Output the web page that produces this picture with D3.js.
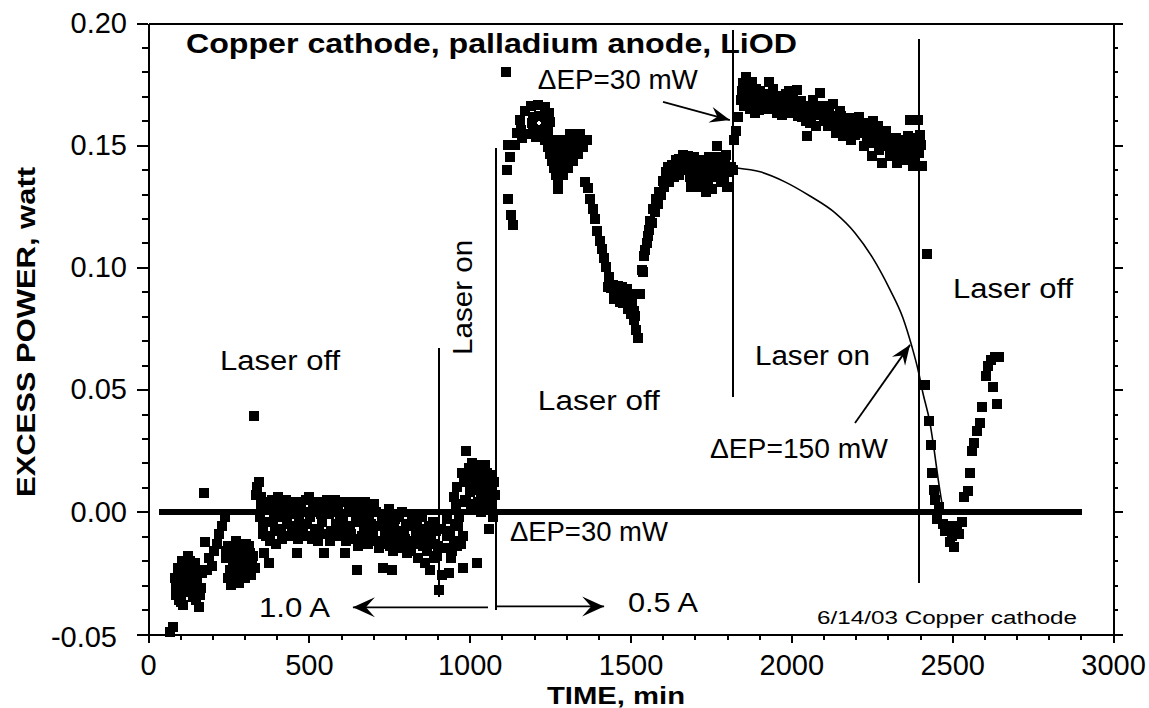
<!DOCTYPE html>
<html>
<head>
<meta charset="utf-8">
<script src="https://cdn.jsdelivr.net/npm/d3@7"></script>
<style>
  html, body { margin: 0; padding: 0; background: #fff; }
  svg { display: block; }
  text { font-family: "Liberation Sans", Arial, sans-serif; fill: #000; }
</style>
</head>
<body>
<svg id="chart" width="1149" height="708"></svg>
<script>
// Excess power (watt) against elapsed time (min) for a copper cathode /
// palladium anode cell in LiOD, with laser on/off periods.

const timeTicks  = [0, 500, 1000, 1500, 2000, 2500, 3000];
const powerTicks = [-0.05, 0.00, 0.05, 0.10, 0.15, 0.20];

// 1.0 A, laser off, then the first laser-on period
const run10A = [
  [68,-0.049],[78,-0.047],[84,-0.027],[88,-0.034],[92,-0.023],[98,-0.030],[102,-0.037],
  [106,-0.020],[112,-0.026],[118,-0.032],[124,-0.018],[128,-0.024],[134,-0.029],[140,-0.035],
  [146,-0.021],[152,-0.027],[158,-0.039],[164,-0.031],[168,-0.025],[174,0.0075],[177,-0.0125],
  [86,-0.031],[94,-0.028],[100,-0.024],[108,-0.033],[114,-0.029],[120,-0.022],[126,-0.030],
  [132,-0.020],[138,-0.026],[144,-0.031],[150,-0.036],[156,-0.024],[162,-0.034],[97,-0.036],
  [110,-0.038],[122,-0.027],
  [184,-0.024],[190,-0.019],[198,-0.022],[205,-0.016],[214,-0.013],[222,-0.009],[230,-0.006],
  [238,-0.002],[244,-0.019],[250,-0.014],[256,-0.024],[262,-0.017],[268,-0.028],[274,-0.012],
  [280,-0.021],[286,-0.015],[292,-0.025],[298,-0.019],[304,-0.013],[310,-0.023],[316,-0.017],
  [322,-0.021],[242,-0.016],[248,-0.027],[254,-0.019],[258,-0.030],[264,-0.022],[270,-0.015],
  [276,-0.026],[283,-0.029],[289,-0.018],[295,-0.013],[301,-0.027],[307,-0.020],[313,-0.014],
  [319,-0.026],[326,-0.018],[333,-0.023],
  [330,0.039],[336,0.007],[340,0.010],[345,0.012],
  [348,-0.002],[352,0.003],[358,-0.006],[362,-0.017],[368,-0.010],[375,-0.021],[380,0.001],
  [388,-0.004],[395,-0.008],[402,0.003],[410,-0.002],[418,-0.011],[425,0.002],[432,-0.005],
  [440,-0.001],[448,-0.009],[455,0.004],[462,-0.017],[468,-0.003],[475,0.001],[482,-0.006],
  [490,0.005],[498,-0.010],[505,-0.002],[512,0.003],[520,-0.007],[528,-0.012],[535,0.002],
  [540,-0.004],[548,-0.017],[555,0.005],[562,-0.001],[570,-0.008],[578,0.003],[585,-0.005],
  [592,0.001],[600,-0.009],[606,-0.003],[612,-0.017],[620,0.004],[628,-0.006],[635,0.000],
  [642,-0.011],[650,-0.024],[655,0.004],[662,-0.004],[670,-0.008],[678,0.002],[685,-0.013],
  [692,-0.005],[700,-0.009],[708,0.000],[715,-0.012],[722,-0.006],[730,-0.023],[738,-0.010],
  [745,-0.003],[752,-0.014],[760,-0.024],[766,-0.007],[772,-0.011],[780,-0.002],[788,-0.013],
  [795,-0.008],[802,-0.005],[810,-0.012],[818,-0.016],[825,-0.004],[832,-0.009],[840,-0.019],
  [848,-0.007],[855,-0.014],[862,-0.021],[870,-0.010],[878,-0.024],[885,-0.004],[892,-0.013],
  [898,-0.018],[905,-0.032],
  [351,0.006],[356,-0.009],[365,0.004],[371,-0.004],[378,-0.012],[384,0.005],[391,-0.001],
  [398,-0.013],[405,0.006],[414,-0.007],[421,-0.002],[428,0.005],[436,-0.010],[444,0.003],
  [451,-0.006],[458,-0.001],[465,-0.011],[472,0.004],[479,-0.008],[486,0.000],[494,-0.005],
  [502,0.006],[509,-0.011],[516,0.000],[524,0.004],[531,-0.008],[538,-0.001],[545,0.004],
  [552,-0.009],[559,0.002],[566,-0.012],[574,0.000],[581,0.005],[588,-0.010],[596,-0.002],
  [603,0.004],[610,-0.007],[616,-0.012],[624,0.001],[631,-0.009],[639,0.004],[646,-0.004],
  [652,-0.014],[659,0.000],[666,-0.010],[674,0.004],[681,-0.007],[688,-0.001],[696,-0.012],
  [704,0.003],[711,-0.006],[718,-0.015],[726,-0.002],[734,-0.013],[741,-0.006],[748,0.001],
  [756,-0.010],[763,-0.016],[769,-0.003],[776,-0.008],[784,-0.015],[791,0.000],[798,-0.011],
  [806,-0.017],[814,-0.006],[821,-0.001],[828,-0.013],[836,-0.005],[844,-0.011],[851,-0.002],
  [859,-0.009],[866,-0.016],[874,-0.006],[881,-0.012],[888,-0.019],[895,-0.008],[902,-0.014],
  [910,-0.007],[915,-0.026],[920,-0.015],[928,-0.010],[935,-0.025],[942,-0.019],[950,-0.012],
  [958,0.003],[965,-0.006],[972,-0.013],[978,-0.023],[985,0.005],[930,-0.003],[940,-0.008],
  [946,-0.016],[955,-0.005],[960,-0.014],[980,-0.010],
  [990,0.025],[995,0.012],[1000,0.008],[1005,0.016],[1010,0.011],[1015,0.003],[1020,0.014],
  [1024,-0.021],[1028,0.009],[1032,0.018],[1036,0.006],[1040,0.013],[1045,0.001],[1050,0.010],
  [1055,0.016],[1060,-0.007],[1065,0.008],[1070,0.003],[1075,0.012],
  [952,0.006],[962,0.010],[968,-0.002],[975,0.016],[982,0.012],[988,0.004],[998,0.018],
  [1003,0.002],[1008,0.020],[1013,0.009],[1018,0.019],[1026,0.004],[1030,0.013],[1034,0.000],
  [1038,0.017],[1043,0.008],[1048,0.019],[1052,0.004],[1058,0.013],[1062,0.002],[1068,0.015],
  [1072,-0.002],[1078,0.007]
];

// 0.5 A, laser off
const run05AOff = [
  [1112,0.180],[1116,0.140],[1120,0.128],[1125,0.145],[1130,0.1215],[1135,0.1175],[1118,0.150],
  [1142,0.150],[1147,0.155],
  [1237,0.1591],[1194,0.1591],[1216,0.1620],[1216,0.1562],[1234,0.1615],[1197,0.1615],
  [1234,0.1566],[1197,0.1566],
  [1157,0.1603],[1160,0.1562],[1163,0.1529],[1172,0.1640],[1191,0.1660],[1212,0.1664],
  [1234,0.1656],[1247,0.1632],[1250,0.1595],[1244,0.1562],[1231,0.1538],[1206,0.1534],
  [1181,0.1546],
  [1234,0.1521],[1256,0.1521],[1278,0.1521],[1299,0.1521],[1321,0.1521],[1343,0.1521],[1365,0.1521],
  [1243,0.1493],[1265,0.1493],[1287,0.1493],[1309,0.1493],[1331,0.1493],[1352,0.1493],
  [1250,0.1464],[1271,0.1464],[1293,0.1464],[1315,0.1464],[1337,0.1464],
  [1256,0.1435],[1278,0.1435],[1299,0.1435],[1321,0.1435],
  [1262,0.1407],[1284,0.1407],[1306,0.1407],[1268,0.1378],[1290,0.1378],
  [1275,0.1349],[1275,0.1321],[1343,0.1546],[1312,0.1546],
  [1360,0.135],[1368,0.1325],[1375,0.128],[1382,0.124],
  [1390,0.120],[1396,0.115],[1404,0.111],[1411,0.1075],[1418,0.104],[1425,0.100],[1432,0.096],
  [1440,0.0915],[1448,0.089],[1455,0.087],[1462,0.091],[1470,0.088],[1478,0.0855],[1485,0.090],
  [1492,0.083],[1500,0.081],[1506,0.086],[1512,0.0785],[1518,0.0745],[1522,0.071],[1528,0.089],
  [1430,0.092],[1445,0.093],[1460,0.0925],[1475,0.092],[1490,0.091],[1505,0.089],[1450,0.087],
  [1467,0.086],[1483,0.088],[1498,0.085],[1510,0.082],[1515,0.080],
  [1535,0.099],[1542,0.1045],[1550,0.110],[1558,0.1155],[1566,0.118],[1575,0.1225],[1585,0.126],
  [1595,0.1295],[1605,0.133],[1613,0.137],[1620,0.135],[1628,0.139],[1636,0.137],[1644,0.141],
  [1540,0.098],[1546,0.107],[1553,0.113],[1562,0.119],[1570,0.124],[1578,0.128],[1590,0.131],
  [1600,0.1355],[1610,0.139],[1618,0.141],[1630,0.142],[1640,0.144],[1650,0.1445],[1664,0.146],
  [1652,0.138],[1660,0.143],[1668,0.140],[1676,0.144],[1684,0.137],[1692,0.141],[1700,0.138],
  [1708,0.136],[1716,0.140],[1724,0.137],[1732,0.1395],[1740,0.134],[1748,0.141],[1756,0.137],
  [1764,0.139],[1770,0.1495],[1778,0.1415],[1786,0.138],[1794,0.143],[1800,0.133],[1806,0.139],
  [1812,0.141],[1820,0.140],
  [1680,0.1455],[1696,0.145],[1712,0.143],[1728,0.144],[1744,0.145],[1760,0.143],[1775,0.145],
  [1790,0.137],[1798,0.146],[1688,0.133],[1704,0.133],[1720,0.134],[1736,0.131],[1752,0.132],
  [1782,0.135]
];

// 0.5 A, laser on
const run05AOn = [
  [1822,0.152],[1828,0.156],[1834,0.1617],[1842,0.1686],[1850,0.1755],[1858,0.178],[1866,0.1727],
  [1874,0.170],[1882,0.1686],[1890,0.173],[1898,0.1645],[1906,0.168],[1914,0.171],[1922,0.166],
  [1930,0.176],[1938,0.170],[1946,0.1686],[1954,0.163],[1962,0.167],[1970,0.1625],[1978,0.169],
  [1986,0.166],[1994,0.172],[2002,0.1694],[2010,0.1645],[2018,0.1727],[2026,0.167],[2034,0.1617],
  [2042,0.165],[2050,0.1536],[2058,0.159],[2066,0.1686],[2074,0.1625],[2082,0.166],[2090,0.1714],
  [2098,0.163],[2106,0.1645],[2114,0.158],[2122,0.1617],[2130,0.167],[2138,0.155],[2146,0.159],
  [2154,0.162],[2162,0.1536],[2170,0.1577],[2178,0.1605],[2186,0.1523],[2194,0.157],[2202,0.1577],
  [2210,0.1617],[2218,0.156],[2226,0.1496],[2234,0.1523],[2242,0.158],[2250,0.1455],[2258,0.151],
  [2266,0.155],[2274,0.1482],[2282,0.1428],[2290,0.1496],[2298,0.153],[2306,0.147],[2314,0.1455],
  [2322,0.151],[2330,0.1428],[2338,0.146],[2346,0.1496],[2354,0.144],[2362,0.1536],[2370,0.1605],
  [2378,0.1414],[2386,0.148],[2394,0.1605],[2400,0.154],[2406,0.1414],
  [1846,0.172],[1854,0.166],[1862,0.169],[1870,0.165],[1878,0.176],[1886,0.163],[1894,0.169],
  [1902,0.172],[1910,0.165],[1918,0.168],[1926,0.171],[1934,0.165],[1942,0.173],[1950,0.167],
  [1958,0.170],[1966,0.165],[1974,0.167],[1982,0.171],[1990,0.163],[1998,0.167],[2006,0.171],
  [2014,0.166],[2022,0.162],[2030,0.168],[2038,0.164],[2046,0.160],[2054,0.166],[2062,0.162],
  [2070,0.166],[2078,0.158],[2086,0.163],[2094,0.166],[2102,0.160],[2110,0.163],[2118,0.166],
  [2126,0.159],[2134,0.162],[2142,0.158],[2150,0.164],[2158,0.157],[2166,0.161],[2174,0.155],
  [2182,0.158],[2190,0.161],[2198,0.154],[2206,0.158],[2214,0.155],[2222,0.159],[2230,0.156],
  [2238,0.153],[2246,0.156],[2254,0.160],[2262,0.152],[2270,0.158],[2278,0.154],[2286,0.151],
  [2294,0.156],[2302,0.150],[2310,0.153],[2318,0.147],[2326,0.153],[2334,0.150],[2342,0.144],
  [2350,0.152],[2358,0.148],[2366,0.145],[2374,0.150],[2382,0.1445],[2390,0.153],[2398,0.147],
  [2404,0.150]
];

// 0.5 A, laser off again
const run05AOff2 = [
  [2421,0.1056],[2415,0.052],[2428,0.037],[2433,0.0275],[2438,0.016],[2442,0.009],[2448,0.005],
  [2452,-0.003],[2460,0.002],[2470,-0.005],[2478,-0.008],[2485,-0.006],[2493,-0.0125],[2500,-0.010],
  [2506,-0.0145],[2514,-0.006],[2522,-0.009],[2530,-0.004],[2538,0.006],[2548,0.0085],[2556,0.016],
  [2562,0.025],[2568,0.028],[2578,0.033],[2586,0.0365],[2592,0.043],[2605,0.0555],[2610,0.0595],
  [2620,0.062],[2628,0.051],[2632,0.0635],[2640,0.044],[2645,0.0635]
];

// hand-drawn decay curve (ΔEP = 150 mW)
const decayCurve = [
  [1831,0.1407],[1903,0.1391],[1980,0.1350],[2058,0.1292],[2136,0.1223],[2198,0.1141],
  [2251,0.1043],[2307,0.0908],[2347,0.0793],[2375,0.0675],[2394,0.0580],[2409,0.0486],
  [2431,0.0364],[2444,0.0253],[2456,0.0138],[2468,0.0036]
];

// event markers: time, top value, bottom value
const eventLines = [
  [905, 0.067, -0.035],
  [1082, 0.149, -0.040],
  [1819, 0.197, 0.047],
  [2397, 0.1935, -0.029]
];

const zeroLine = [35, 2905];

const svg = d3.select("#chart");
const W = 1149, H = 708;
const x = d3.scaleLinear().domain([0, 3000]).range([148, 1113]);
const y = d3.scaleLinear().domain([-0.05, 0.20]).range([634, 23]);

svg.append("rect").attr("width", W).attr("height", H).attr("fill", "#fff");

// ---- axes ----
function styleAxis(g) {
  g.selectAll("path, line").attr("stroke", "#000").attr("stroke-width", 2)
    .attr("shape-rendering", "crispEdges");
  g.selectAll("text").style("font-family", '"Liberation Sans", Arial, sans-serif')
    .style("font-size", "29px").attr("fill", "#000");
}
const minorY = d3.range(-0.05, 0.2001, 0.01).map(v => +v.toFixed(2));
const minorX = d3.range(0, 3001, 100);

// left
svg.append("g").attr("transform", "translate(148,0)")
  .call(d3.axisLeft(y).tickValues(minorY).tickSize(6).tickFormat("").tickSizeOuter(0)).call(styleAxis);
const leftAxis = svg.append("g").attr("transform", "translate(148,0)")
  .call(d3.axisLeft(y).tickValues(powerTicks).tickSize(11).tickPadding(10)
    .tickFormat(d => d.toFixed(2)).tickSizeOuter(0)).call(styleAxis);
leftAxis.selectAll(".tick text").filter(d => d < 0).attr("x", -31).attr("dy", "0.42em");

// right
svg.append("g").attr("transform", "translate(1113,0)")
  .call(d3.axisRight(y).tickValues(minorY).tickSize(5).tickFormat("").tickSizeOuter(0)).call(styleAxis);
svg.append("g").attr("transform", "translate(1113,0)")
  .call(d3.axisRight(y).tickValues(powerTicks).tickSize(10).tickFormat("").tickSizeOuter(0)).call(styleAxis);

// bottom
svg.append("g").attr("transform", "translate(0,634)")
  .call(d3.axisBottom(x).tickValues(minorX).tickSize(6).tickFormat("").tickSizeOuter(0)).call(styleAxis);
svg.append("g").attr("transform", "translate(0,634)")
  .call(d3.axisBottom(x).tickValues(timeTicks).tickSize(9).tickPadding(11)
    .tickFormat(d3.format("d")).tickSizeOuter(0)).call(styleAxis);

// top
svg.append("g").attr("transform", "translate(0,23)")
  .call(d3.axisTop(x).tickValues([]).tickSizeOuter(0)).call(styleAxis);

// ---- zero reference line ----
svg.append("line")
  .attr("x1", x(zeroLine[0])).attr("x2", x(zeroLine[1]))
  .attr("y1", y(0)).attr("y2", y(0))
  .attr("stroke", "#000").attr("stroke-width", 6).attr("shape-rendering", "crispEdges");

// ---- event lines ----
svg.append("g").selectAll("line").data(eventLines).join("line")
  .attr("x1", d => x(d[0])).attr("x2", d => x(d[0]))
  .attr("y1", d => y(d[1])).attr("y2", d => y(d[2]))
  .attr("stroke", "#000").attr("stroke-width", 2).attr("shape-rendering", "crispEdges");

// ---- decay curve ----
svg.append("path")
  .datum(decayCurve)
  .attr("d", d3.line().x(d => x(d[0])).y(d => y(d[1])).curve(d3.curveMonotoneX))
  .attr("fill", "none").attr("stroke", "#000").attr("stroke-width", 1.6);

// ---- data points ----
const S = 10;
const allRuns = [run10A, run05AOff, run05AOn, run05AOff2];
svg.append("g").selectAll("g").data(allRuns).join("g")
  .selectAll("rect").data(d => d).join("rect")
  .attr("x", d => Math.round(x(d[0]) - S / 2))
  .attr("y", d => Math.round(y(d[1]) - S / 2))
  .attr("width", S).attr("height", S)
  .attr("fill", "#000").attr("shape-rendering", "crispEdges");

// ---- arrows ----
function arrow(t0, v0, t1, v1, head) {
  const x0 = x(t0), y0 = y(v0), x1 = x(t1), y1 = y(v1);
  svg.append("line").attr("x1", x0).attr("y1", y0).attr("x2", x1).attr("y2", y1)
    .attr("stroke", "#000").attr("stroke-width", 1.8);
  const a = Math.atan2(y1 - y0, x1 - x0) * 180 / Math.PI;
  svg.append("path")
    .attr("d", head)
    .attr("transform", `translate(${x1},${y1}) rotate(${a})`)
    .attr("fill", "#000");
}
const bigHead = "M0,0 L-22,-10 L-13,0 L-22,10 Z";
const smallHead = "M0,0 L-20,-8 L-13,0 L-20,8 Z";
arrow(1057, -0.0391, 637, -0.0391, bigHead);
arrow(1085, -0.0387, 1418, -0.0387, bigHead);
arrow(1601, 0.1677, 1809, 0.1603, smallHead);
arrow(2198, 0.0363, 2369, 0.0683, smallHead);

// ---- labels ----
const labels = [
  { text: "Laser off", t: 224, v: 0.0621, w: 120 },
  { text: "Laser off", t: 1212, v: 0.0457, w: 122 },
  { text: "Laser off", t: 2503, v: 0.0916, w: 120 },
  { text: "Laser on", t: 1887, v: 0.0642, w: 115 },
  { text: "\u0394EP=30 mW", t: 1212, v: 0.1771, w: 160 },
  { text: "\u0394EP=30 mW", t: 1125, v: -0.0079, w: 158 },
  { text: "\u0394EP=150 mW", t: 1747, v: 0.0261, w: 178 },
  { text: "1.0 A", t: 345, v: -0.0390, w: 71 },
  { text: "0.5 A", t: 1492, v: -0.0369, w: 70 }
];
svg.append("g").selectAll("text").data(labels).join("text")
  .attr("x", d => x(d.t)).attr("y", d => y(d.v)).attr("dy", "0.36em")
  .attr("textLength", d => d.w).attr("lengthAdjust", "spacingAndGlyphs")
  .style("font-size", "27px").text(d => d.text);

// vertical "Laser on"
svg.append("text")
  .attr("transform", `translate(${x(976)},${y(0.0642)}) rotate(-90)`)
  .attr("dy", "0.36em").attr("textLength", 115).attr("lengthAdjust", "spacingAndGlyphs")
  .style("font-size", "27px").text("Laser on");

// footnote
svg.append("text")
  .attr("x", x(2080)).attr("y", y(-0.0434)).attr("dy", "0.36em")
  .attr("textLength", 260).attr("lengthAdjust", "spacingAndGlyphs")
  .style("font-size", "18px").text("6/14/03 Copper cathode");

// title
svg.append("text")
  .attr("x", x(118)).attr("y", y(0.1877))
  .attr("textLength", 611).attr("lengthAdjust", "spacingAndGlyphs")
  .style("font-size", "27px").style("font-weight", "bold")
  .text("Copper cathode, palladium anode, LiOD");

// axis titles
svg.append("text")
  .attr("x", 547).attr("y", 704)
  .attr("textLength", 138).attr("lengthAdjust", "spacingAndGlyphs")
  .style("font-size", "24px").style("font-weight", "bold").text("TIME, min");

svg.append("text")
  .attr("transform", "translate(35,497) rotate(-90)")
  .attr("textLength", 330).attr("lengthAdjust", "spacingAndGlyphs")
  .style("font-size", "26px").style("font-weight", "bold").text("EXCESS POWER, watt");
</script>
</body>
</html>
